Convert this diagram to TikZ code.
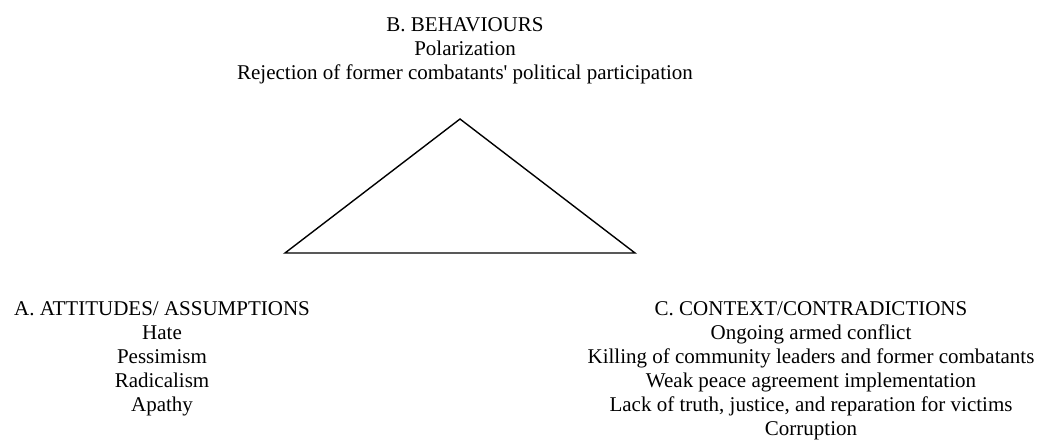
\documentclass[tikz,border=0pt]{standalone}
\usepackage{fontspec}
\setmainfont{Liberation Serif}[Ligatures=TeXOff]
\begin{document}
\begin{tikzpicture}[x=1pt,y=-1pt,
  lbl/.style={align=center,anchor=base,inner sep=0pt,font=\fontsize{21}{24}\selectfont},
  tri/.style={draw=black,line width=1.4pt,line join=miter}]
\useasboundingbox (0,0) rectangle (1040,439);
\node[lbl] (B) at (465,79) {B. BEHAVIOURS\\Polarization\\Rejection of former combatants' political participation};
\node[lbl] (A) at (162,411) {A. ATTITUDES/ ASSUMPTIONS\\Hate\\Pessimism\\Radicalism\\Apathy};
\node[lbl] (C) at (811,435) {C. CONTEXT/CONTRADICTIONS\\Ongoing armed conflict\\Killing of community leaders and former combatants\\Weak peace agreement implementation\\Lack of truth, justice, and reparation for victims\\Corruption};
\coordinate (apex) at (460,119);
\coordinate (bl) at (285,253);
\coordinate (br) at (635,253);
\draw[tri] (apex) -- (bl) -- (br) -- cycle;
\end{tikzpicture}
\end{document}
